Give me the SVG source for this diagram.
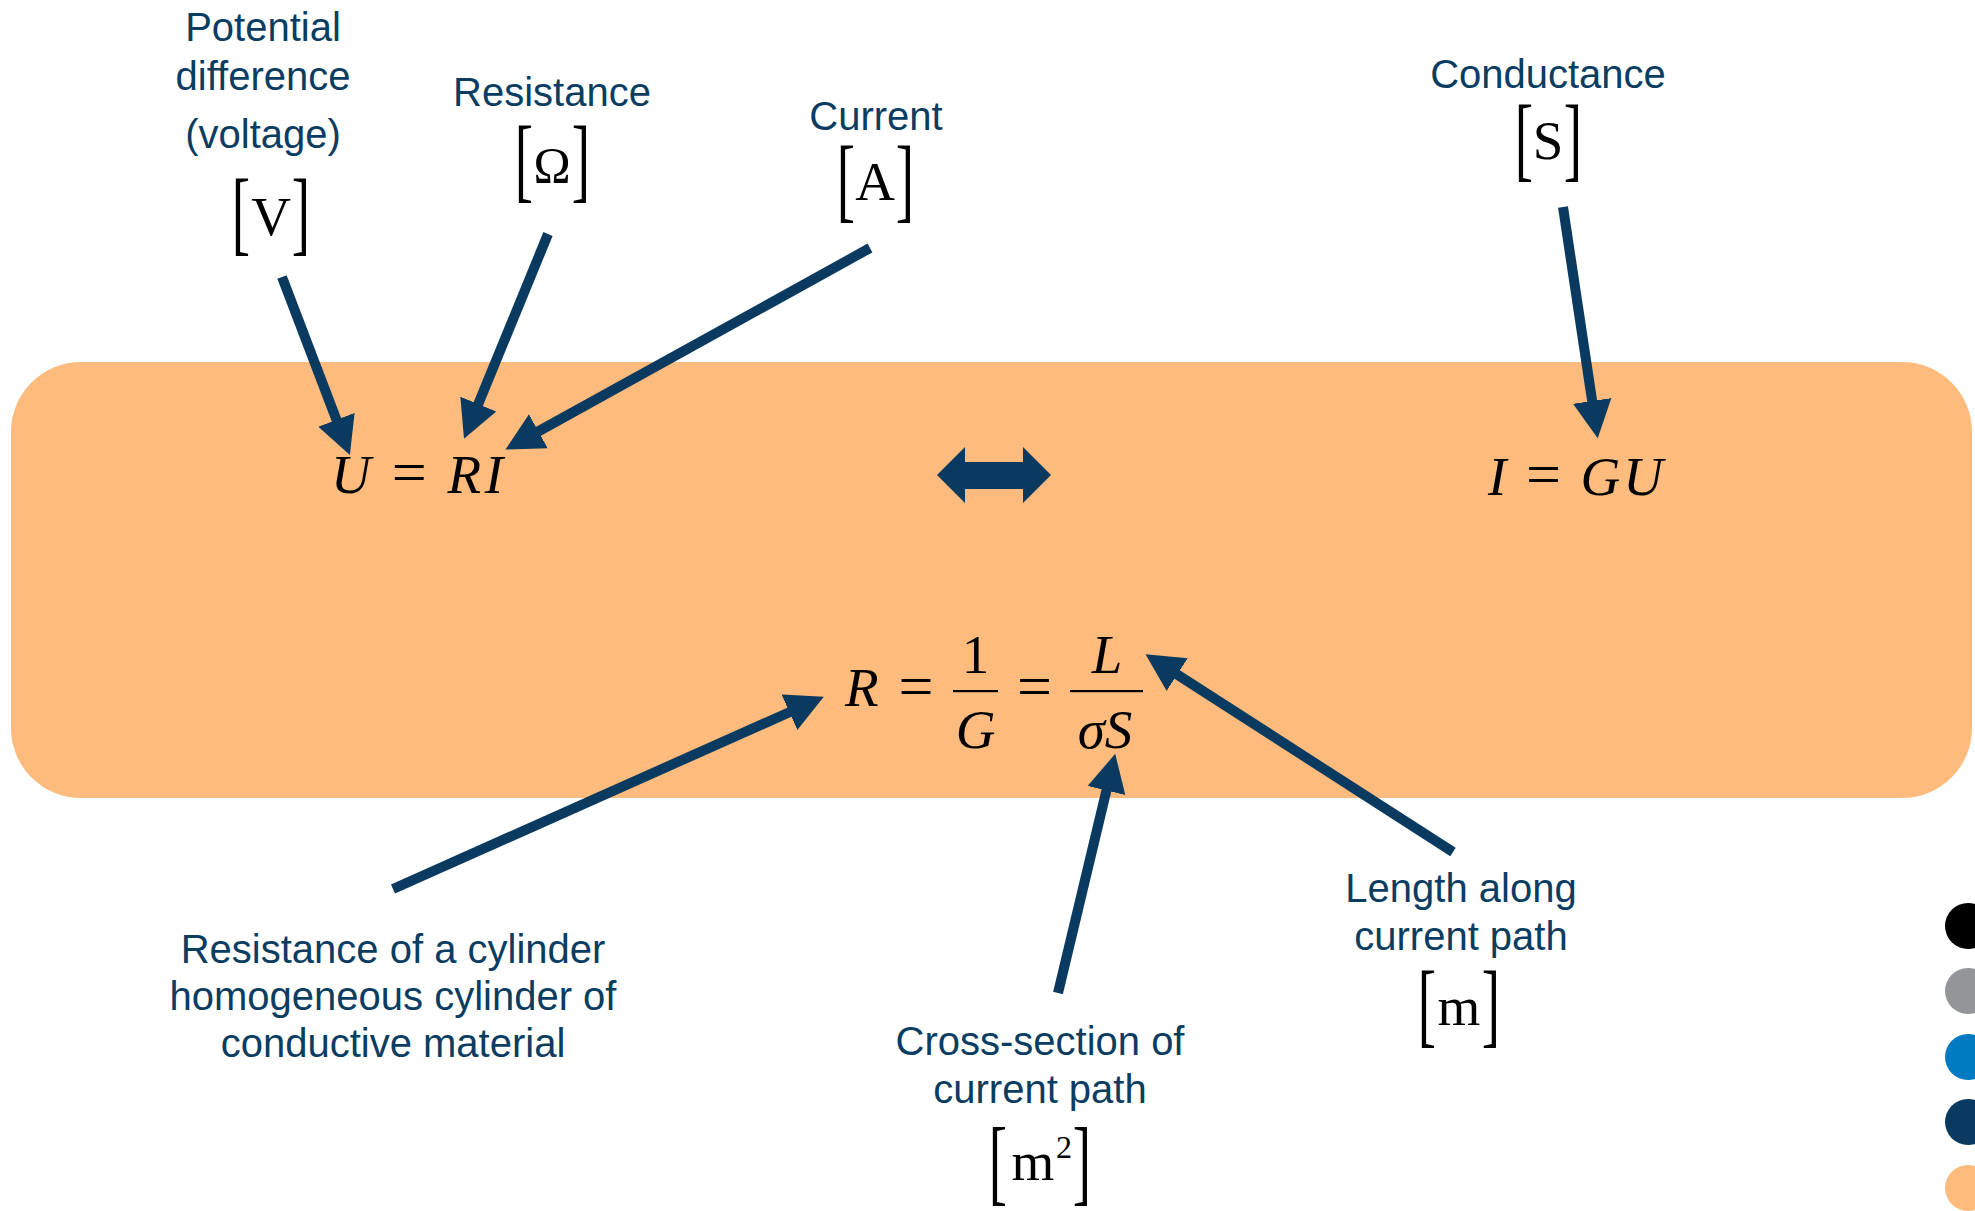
<svg xmlns="http://www.w3.org/2000/svg" width="1975" height="1211" viewBox="0 0 1975 1211">
<defs>
<style>
.lbl{font-family:"Liberation Sans",Arial,sans-serif;font-size:40px;fill:#0B3D62;text-anchor:middle}
.unit{font-family:"Liberation Serif","Times New Roman",serif;font-size:55px;fill:#000;text-anchor:middle}
.br{font-family:"Liberation Serif","Times New Roman",serif;font-size:55px;fill:#000;text-anchor:middle}
.math{font-family:"Liberation Serif","Times New Roman",serif;font-size:55px;fill:#000}
.it{font-style:italic}
.eq{font-size:62px;font-style:normal}
.conn{stroke:#0A3A5F;stroke-width:10;fill:none;marker-end:url(#ah)}
</style>
<marker id="ah" markerUnits="userSpaceOnUse" markerWidth="40" markerHeight="40" viewBox="0 -17 34 34" refX="2" refY="0" orient="auto">
<polygon points="0,-16.5 32,0 0,16.5" fill="#0A3A5F"/>
</marker>
</defs>
<rect width="1975" height="1211" fill="#fff"/>
<g id="panel">
<rect x="11" y="362" width="1961" height="436" rx="70" ry="70" fill="#FDBC7D"/>
</g>
<g id="eq-uri">
<text class="math" x="417" y="493" text-anchor="middle" textLength="172" lengthAdjust="spacing"><tspan class="it">U</tspan> <tspan class="eq">=</tspan> <tspan class="it">RI</tspan></text>
</g>
<g id="eq-igu">
<text class="math" x="1575.5" y="495" text-anchor="middle" textLength="175" lengthAdjust="spacing"><tspan class="it">I</tspan> <tspan class="eq">=</tspan> <tspan class="it">GU</tspan></text>
</g>
<g id="double-arrow">
<polygon points="937,475 965,447 965,462 1023,462 1023,447 1051,475 1023,503 1023,489 965,489 965,503" fill="#0A3A5F"/>
</g>
<g id="eq-r">
<text class="math it" x="845" y="706">R</text>
<text class="math eq" x="916" y="707" text-anchor="middle">=</text>
<text class="math" x="975.5" y="673" text-anchor="middle">1</text>
<rect x="953" y="690" width="45" height="2.2" fill="#000"/>
<text class="math it" x="975.5" y="748" text-anchor="middle">G</text>
<text class="math eq" x="1034.5" y="707" text-anchor="middle">=</text>
<text class="math it" x="1107" y="673" text-anchor="middle">L</text>
<rect x="1070" y="690" width="73" height="2.2" fill="#000"/>
<text class="math it" x="1105" y="748" text-anchor="middle">σS</text>
</g>
<g id="voltage">
<text class="lbl" x="263" y="41">Potential</text>
<text class="lbl" x="263" y="90">difference</text>
<text class="lbl" x="263" y="148">(voltage)</text>
<text class="br" transform="translate(241,220.5) scale(1,1.7)" x="0" y="14">[</text>
<text class="unit" x="271" y="235">V</text>
<text class="br" transform="translate(301,220.5) scale(1,1.7)" x="0" y="14">]</text>
</g>
<g id="resistance">
<text class="lbl" x="552" y="106">Resistance</text>
<text class="br" transform="translate(524,167.5) scale(1,1.7)" x="0" y="14">[</text>
<text class="unit" x="552" y="182" style="font-size:50px">Ω</text>
<text class="br" transform="translate(581,167.5) scale(1,1.7)" x="0" y="14">]</text>
</g>
<g id="current">
<text class="lbl" x="876" y="130">Current</text>
<text class="br" transform="translate(846,187) scale(1,1.7)" x="0" y="14">[</text>
<text class="unit" x="875" y="200">A</text>
<text class="br" transform="translate(905,187) scale(1,1.7)" x="0" y="14">]</text>
</g>
<g id="conductance">
<text class="lbl" x="1548" y="88">Conductance</text>
<text class="br" transform="translate(1524,146) scale(1,1.7)" x="0" y="14">[</text>
<text class="unit" x="1548" y="159">S</text>
<text class="br" transform="translate(1573,146) scale(1,1.7)" x="0" y="14">]</text>
</g>
<g id="cylinder">
<text class="lbl" x="393" y="963">Resistance of a cylinder</text>
<text class="lbl" x="393" y="1010">homogeneous cylinder of</text>
<text class="lbl" x="393" y="1057">conductive material</text>
</g>
<g id="cross-section">
<text class="lbl" x="1040" y="1055">Cross-section of</text>
<text class="lbl" x="1040" y="1103">current path</text>
<text class="br" transform="translate(998,1168) scale(1,1.75)" x="0" y="14">[</text>
<text class="unit" x="1033" y="1180">m</text>
<text class="unit" x="1064" y="1158" style="font-size:32px">2</text>
<text class="br" transform="translate(1082,1168) scale(1,1.75)" x="0" y="14">]</text>
</g>
<g id="length">
<text class="lbl" x="1461" y="902">Length along</text>
<text class="lbl" x="1461" y="950">current path</text>
<text class="br" transform="translate(1427,1012) scale(1,1.7)" x="0" y="14">[</text>
<text class="unit" x="1459" y="1025">m</text>
<text class="br" transform="translate(1491,1012) scale(1,1.7)" x="0" y="14">]</text>
</g>
<g id="connectors">
<line class="conn" x1="282" y1="277" x2="337.3" y2="422"/>
<line class="conn" x1="548" y1="234" x2="477.4" y2="406.2"/>
<line class="conn" x1="870" y1="248" x2="536.3" y2="432.5"/>
<line class="conn" x1="1563" y1="207" x2="1592.5" y2="403.3"/>
<line class="conn" x1="393" y1="889" x2="791.6" y2="711.2"/>
<line class="conn" x1="1058" y1="993" x2="1107" y2="788.2"/>
<line class="conn" x1="1453" y1="852" x2="1175.2" y2="673.3"/>
</g>
<g id="legend">
<circle cx="1968" cy="926" r="23" fill="#000"/>
<circle cx="1968" cy="991" r="23" fill="#939598"/>
<circle cx="1968" cy="1057" r="23" fill="#007AC2"/>
<circle cx="1968" cy="1122" r="23" fill="#0A3A5F"/>
<circle cx="1968" cy="1188" r="23" fill="#FDBC7D"/>
</g>
</svg>
